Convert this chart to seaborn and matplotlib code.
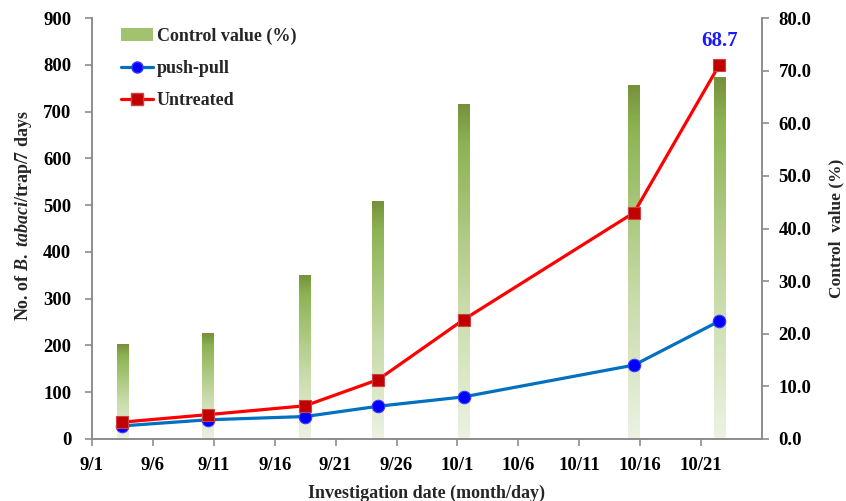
import numpy as np
import pandas as pd
import seaborn as sns
import matplotlib.pyplot as plt
import matplotlib.dates as mdates
from matplotlib.colors import LinearSegmentedColormap
from matplotlib.patches import Patch
from matplotlib.lines import Line2D

# Data
dates = pd.to_datetime(["2015-09-03", "2015-09-10", "2015-09-18", "2015-09-24",
                        "2015-10-01", "2015-10-15", "2015-10-22"])
push_pull = [28, 41, 48, 70, 90, 158, 252]
untreated = [36, 52, 71, 127, 255, 484, 800]
control_value = [18.0, 20.1, 31.2, 45.2, 63.7, 67.3, 68.7]

sns.set_style("white")
plt.rcParams["font.family"] = ["Liberation Serif", "DejaVu Serif"]
plt.rcParams["font.weight"] = "bold"
plt.rcParams["mathtext.fontset"] = "custom"
plt.rcParams["mathtext.rm"] = "Liberation Serif:bold"
plt.rcParams["mathtext.it"] = "Liberation Serif:italic:bold"

axis_gray = "#8C8C8C"

# Excel date axis: each day is one slot, points sit at mid-day
x = mdates.date2num(dates) + 0.5
df = pd.DataFrame({"x": x, "push_pull": push_pull, "untreated": untreated})

fig = plt.figure(figsize=(8.46, 5.01), dpi=100)
ax = fig.add_axes([0.1087, 0.1238, 0.7920, 0.8402])
axr = ax.twinx()
ax.set_zorder(axr.get_zorder() + 1)
ax.patch.set_visible(False)

# gradient bars for control value on the right axis
cmap = LinearSegmentedColormap.from_list(
    "ctrl", [(0.0, "#EDF2E3"), (0.4, "#C8DBA9"), (0.65, "#A9C77B"),
             (0.88, "#8CB352"), (1.0, "#76903C")])
grad = np.linspace(0, 1, 256).reshape(-1, 1)
bars = axr.bar(x, control_value, width=0.95, color="none", edgecolor="none")
for rect in bars:
    x0, w, h = rect.get_x(), rect.get_width(), rect.get_height()
    im = axr.imshow(grad, extent=[x0, x0 + w, 0, h], origin="lower",
                    cmap=cmap, aspect="auto", zorder=2)
    im.set_clip_path(rect)

axr.annotate("68.7", xy=(x[-1], control_value[-1]), xytext=(0, 19),
             textcoords="offset points", ha="center", va="bottom",
             color="#1A1AF5", fontsize=15, fontweight="bold")

# lines on the left axis
sns.lineplot(data=df, x="x", y="push_pull", ax=ax, color="#0070C0", lw=2.3,
             marker="o", markersize=9, markerfacecolor="#0000FF",
             markeredgecolor="#3A3AFF", markeredgewidth=0.8, zorder=3)
sns.lineplot(data=df, x="x", y="untreated", ax=ax, color="#FF0000", lw=2.3,
             marker="s", markersize=9, markerfacecolor="#C00000",
             markeredgecolor="#D04040", markeredgewidth=0.8, zorder=4)

start = mdates.date2num(pd.Timestamp("2015-09-01"))
end = mdates.date2num(pd.Timestamp("2015-10-26"))
ticks = pd.date_range("2015-09-01", "2015-10-21", freq="5D")
ax.set_xticks(mdates.date2num(ticks))
ax.set_xticklabels([f"{d.month}/{d.day}" for d in ticks])
ax.set_xlim(start, end)
axr.set_xlim(start, end)

ax.set_ylim(0, 900)
ax.set_yticks(range(0, 901, 100))
axr.set_ylim(0, 80)
axr.set_yticks(range(0, 81, 10))
axr.set_yticklabels([f"{v:.1f}" for v in range(0, 81, 10)])

ax.set_xlabel("Investigation date (month/day)", fontsize=13, fontweight="bold", labelpad=8)
ax.set_ylabel(r"No. of $\mathit{B.\ tabaci}$/trap/7 days", fontsize=13,
              fontweight="bold")
ax.yaxis.set_label_coords(-0.086, 0.53)
axr.set_ylabel("Control  value (%)", fontsize=12.5, fontweight="bold", labelpad=12)

for a in (ax, axr):
    for side in ("left", "right", "bottom"):
        a.spines[side].set_color(axis_gray)
        a.spines[side].set_linewidth(1.2)
    a.spines["top"].set_visible(False)
    a.tick_params(axis="both", colors=axis_gray, labelcolor="black",
                  labelsize=13.5, length=5, width=1.2, direction="out")
ax.tick_params(axis="x", pad=8, bottom=True)
ax.tick_params(axis="y", pad=10, left=True)
axr.tick_params(axis="y", pad=7, right=True)
for lab in ax.get_xticklabels() + ax.get_yticklabels() + axr.get_yticklabels():
    lab.set_fontweight("bold")

handles = [Patch(facecolor="#A3C270", edgecolor="none"),
           Line2D([], [], color="#0070C0", lw=2.3, marker="o", markersize=8,
                  markerfacecolor="#0000FF", markeredgecolor="#3A3AFF"),
           Line2D([], [], color="#FF0000", lw=2.3, marker="s", markersize=8,
                  markerfacecolor="#C00000", markeredgecolor="#D04040")]
ax.legend(handles, ["Control value (%)", "push-pull", "Untreated"],
          loc="upper left", bbox_to_anchor=(0.032, 0.995), borderaxespad=0,
          frameon=False, handlelength=1.8, handletextpad=0.2,
          labelspacing=0.85, prop={"weight": "bold", "size": 13})

fig.savefig("out.png", dpi=100)
